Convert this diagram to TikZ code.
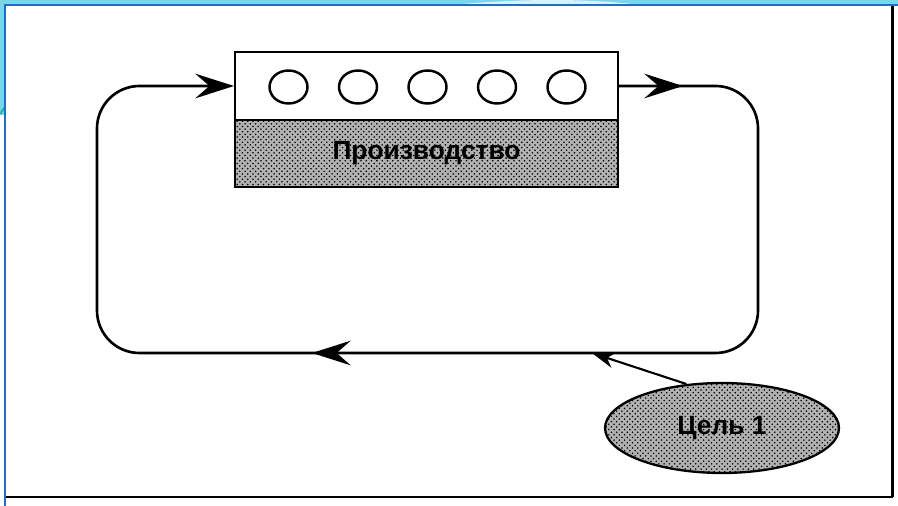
\documentclass[tikz,border=0pt]{standalone}
\usepackage{fontspec}
\setsansfont{Liberation Sans}
\usepackage{xcolor}
\usetikzlibrary{calc, arrows.meta, shapes.geometric, patterns}
\definecolor{slidecyan}{HTML}{7DD3E8}
\definecolor{slideblue}{HTML}{1E6FC4}
\definecolor{slideteal}{HTML}{2DB5A0}

\begin{document}
\begin{tikzpicture}[x=0.02cm, y=-0.02cm,
    font=\sffamily\bfseries\fontsize{15}{18}\selectfont,
    flow/.style={line width=1.5pt, line join=round},
    flowhead/.style={-{Stealth[length=22pt, width=14pt, inset=8pt]}},
    goalhead/.style={-{Stealth[length=13pt, width=9pt, inset=4pt]}},
    stipple/.style={preaction={fill=black!30}, preaction={pattern=crosshatch dots, pattern color=black}},
    port/.style={draw, ellipse, line width=1.4pt, minimum width=0.76cm, minimum height=0.66cm, inner sep=0pt}]

    % 1. Slide background and the frame of the scan
    \useasboundingbox (0,0) rectangle (898,506);
    \fill[white] (0,0) rectangle (898,506);
    \fill[slidecyan] (0,0) rectangle (898,6);
    \fill[slidecyan] (0,0) rectangle (5,115);
    \fill[white, opacity=0.7] (440,6) .. controls (520,-2) and (590,-2) .. (650,6) -- cycle;
    \draw[slideteal, line width=1.2pt] (0,114) .. controls (2,110) .. (5,107);
    \draw[slideblue, line width=1.2pt] (898,5) -- (5,5) -- (5,506);
    \draw[line width=1.7pt] (892,6) -- (892,497);
    \draw[line width=1.2pt] (6,497) -- (893,497);

    % 2. Production block: slots on top, label below
    \node[draw, line width=1.2pt, minimum width=7.66cm, minimum height=1.36cm, inner sep=0pt] (slots) at (426.5,86) {};
    \node[draw, stipple, line width=1.2pt, minimum width=7.66cm, minimum height=1.34cm, inner sep=0pt] (prod) at (426.5,153.5) {\raisebox{-2pt}{Производство}};

    % 3. The five slots
    \foreach \i in {1,...,5}
        \node[port] (slot\i) at ({288.5+69.5*(\i-1)}, 87) {};

    % 4. Goal
    \node[draw, ellipse, stipple, line width=1.3pt, minimum width=4.68cm, minimum height=1.8cm, inner sep=0pt] (goal) at (722,428) {Цель 1};

    % 5. The loop round the block, heads drawn over it
    \coordinate (fwd) at (683,86);
    \coordinate (back) at (312,353);
    \coordinate (hit) at (592,353);
    \draw[flow, rounded corners=0.85cm, flowhead] (slots.east) -| (758,353) -| (97,86) -- (slots.west);
    \draw[flow, flowhead] (slots.east) -- (fwd);
    \draw[flow, flowhead] (hit) -- (back);

    % 6. Goal feeds into the loop
    \draw[line width=1.2pt, goalhead] (goal.129) -- (hit);
\end{tikzpicture}
\end{document}
